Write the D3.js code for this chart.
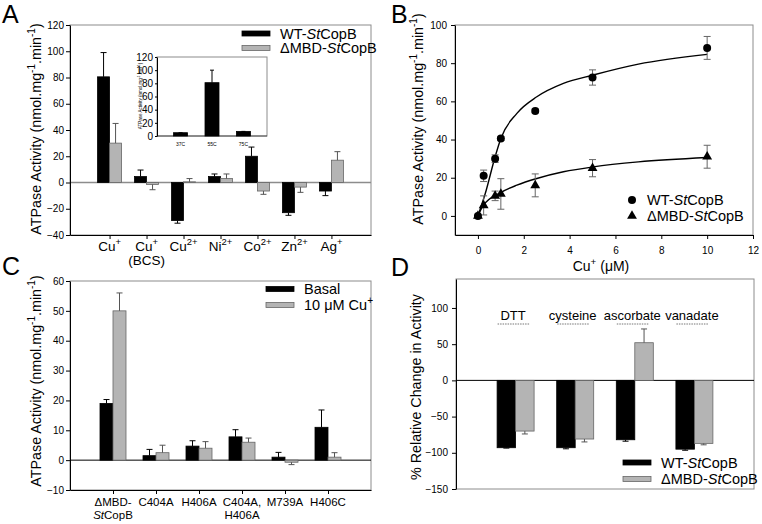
<!DOCTYPE html>
<html>
<head>
<meta charset="utf-8">
<script src="https://cdn.jsdelivr.net/npm/d3@7"></script>
<style>
body { margin: 0; background: #fff; }
text { font-family: "Liberation Sans", Arial, sans-serif; }
</style>
</head>
<body>
<svg id="fig" width="762" height="524"></svg>
<script>
// ---- panel A: activity with different metals ----
var metals = ["Cu^{+}", "Cu^{+}\n(BCS)", "Cu^{2+}", "Ni^{2+}", "Co^{2+}", "Zn^{2+}", "Ag^{+}"];
var wtMetal = [80.5, 4.5, -29, 4.5, 20, -23, -6.5];
var wtMetalErr = [18.5, 5, 2, 2, 7, 2, 3.5];
var mbdMetal = [30, -1.5, 0.5, 3, -6.5, -3.5, 17];
var mbdMetalErr = [15, 4, 2.5, 3.5, 2.5, 4, 6.5];
var yTicksA = [-40, -20, 0, 20, 40, 60, 80, 100, 120];

// inset: temperature
var temps = ["37C", "55C", "75C"];
var tempAct = [5, 81, 7];
var tempErr = [0, 19, 0];
var yTicksInset = [0, 20, 40, 60, 80, 100, 120];

// ---- panel B: Cu+ dependence ----
var cuConc = [0, 0.25, 0.75, 1, 2.5, 5, 10];
var wtCu = [0, 21, 30, 40.5, 55, 72.5, 88];
var wtCuErr = [0, 3, 2, 1, 1, 4, 6];
var mbdCu = [0, 5.5, 10.5, 11.5, 16, 25, 31];
var mbdCuErr = [0, 5, 2.5, 8, 6, 4.5, 6];
// fitted curves
var wtFitX = [0, 0.32, 0.75, 1, 1.7, 2.57, 3.73, 5.03, 7, 10];
var wtFitY = [0, 11.7, 31, 40.6, 53.7, 62.4, 69.4, 73.8, 79.5, 84.6];
var mbdFitX = [0, 0.24, 0.97, 1.7, 2.57, 3.73, 5.03, 7, 10];
var mbdFitY = [0, 5.6, 12.1, 16.1, 19.6, 23.1, 25.7, 28.3, 30.6];
var xTicksB = [0, 2, 4, 6, 8, 10, 12];
var yTicksB = [0, 20, 40, 60, 80, 100];

// ---- panel C: mutants ----
var mutants = ["ΔMBD-\n*St*CopB", "C404A", "H406A", "C404A,\nH406A", "M739A", "H406C"];
var basal = [19, 1.5, 4.7, 7.8, 1, 11];
var basalErr = [1.3, 2.1, 1.8, 2.4, 1.6, 5.8];
var cuAct = [50, 2.5, 4, 6, -0.7, 1];
var cuActErr = [6, 2.5, 2.2, 1.4, 0.8, 1.5];
var yTicksC = [-10, 0, 10, 20, 30, 40, 50, 60];

// ---- panel D: reagents ----
var reagents = ["DTT", "cysteine", "ascorbate", "vanadate"];
var wtChange = [-93, -93, -82, -95];
var wtChangeErr = [0.5, 1.5, 2, 1.5];
var mbdChange = [-70, -81, 52, -87];
var mbdChangeErr = [4, 4, 19, 2];
var yTicksD = [-150, -100, -50, 0, 50, 100];

var svg = d3.select("#fig");
var GREY = "#b4b4b4";
var FS = 14.5;   // tick and legend text

// writes a string with *italic* and ^{sup} parts into a text element
function rich(el, str, fs) {
    var parts = str.split(/(\*[^*]+\*|\^\{[^}]+\})/).filter(function(s) { return s.length; });
    var up = false;
    parts.forEach(function(p) {
        var t = el.append("tspan");
        if (p[0] == "^") {
            t.text(p.slice(2, -1)).attr("font-size", fs * 0.7).attr("dy", -fs * 0.4);
            up = true;
        } else {
            if (p[0] == "*") t.text(p.slice(1, -1)).attr("font-style", "italic");
            else t.text(p);
            if (up) t.attr("dy", fs * 0.4);
            up = false;
        }
    });
}

function frame(g, x0, x1, y0, y1) {
    g.append("rect")
     .attr("x", x0).attr("y", y0)
     .attr("width", x1 - x0).attr("height", y1 - y0)
     .attr("fill", "none")
     .attr("stroke", "#8c8c8c");
}

function leftAxis(g, y, x0, ticks, size, pad, fs) {
    g.append("g")
     .attr("transform", "translate(" + x0 + ",0)")
     .attr("font-family", "Liberation Sans, Arial, sans-serif")
     .attr("font-size", fs)
     .call(d3.axisLeft(y).tickValues(ticks).tickSize(size).tickSizeOuter(0).tickPadding(pad));
}

function yTitle(g, x, y, str, fs) {
    var t = g.append("text")
             .attr("transform", "translate(" + x + "," + y + ") rotate(-90)")
             .attr("text-anchor", "middle")
             .attr("font-size", fs);
    rich(t, str, fs);
}

function panelLetter(x, y, s) {
    svg.append("text").attr("x", x).attr("y", y)
       .attr("font-size", 25).text(s);
}

// bars for one series, with one-sided error bars
function bars(g, x, y, cats, vals, errs, off, bw, fill, errCol, cap) {
    g.selectAll(null).data(cats).enter().append("rect")
     .attr("x", function(d) { return x(d) + off; })
     .attr("width", bw)
     .attr("y", function(d, i) { return y(Math.max(0, vals[i])); })
     .attr("height", function(d, i) { return Math.abs(y(vals[i]) - y(0)); })
     .attr("fill", fill)
     .attr("stroke", fill == "#000" ? "#000" : "#666")
     .attr("stroke-width", 0.8);

    var eb = g.selectAll(null).data(cats).enter().append("g")
              .attr("stroke", errCol).attr("stroke-width", 1);
    eb.append("line")
      .attr("x1", function(d) { return x(d) + off + bw / 2; })
      .attr("x2", function(d) { return x(d) + off + bw / 2; })
      .attr("y1", function(d, i) { return y(vals[i]); })
      .attr("y2", function(d, i) { return y(vals[i] + (vals[i] < 0 ? -1 : 1) * errs[i]); });
    eb.append("line")
      .attr("x1", function(d) { return x(d) + off + bw / 2 - cap; })
      .attr("x2", function(d) { return x(d) + off + bw / 2 + cap; })
      .attr("y1", function(d, i) { return y(vals[i] + (vals[i] < 0 ? -1 : 1) * errs[i]); })
      .attr("y2", function(d, i) { return y(vals[i] + (vals[i] < 0 ? -1 : 1) * errs[i]); });
}

function legendBar(g, x, y, fill, label, fs) {
    g.append("rect").attr("x", x).attr("y", y - 2.5).attr("width", 28).attr("height", 5)
     .attr("fill", fill).attr("stroke", fill == "#000" ? "#000" : "#666").attr("stroke-width", 0.8);
    var t = g.append("text").attr("x", x + 38).attr("y", y + 5).attr("font-size", fs);
    rich(t, label, fs);
}

// ================= A =================
var gA = svg.append("g");
var xA = d3.scalePoint().domain(metals).range([70, 371]).padding(1.07);
var yA = d3.scaleLinear().domain([-40, 120]).range([235, 25]);

frame(gA, 70, 371, 25, 235);
gA.append("line").attr("x1", 70).attr("x2", 371).attr("y1", yA(0)).attr("y2", yA(0))
  .attr("stroke", "#8c8c8c").attr("stroke-width", 1.6);
bars(gA, xA, yA, metals, wtMetal, wtMetalErr, -12, 12, "#000", "#000", 3);
bars(gA, xA, yA, metals, mbdMetal, mbdMetalErr, 0, 12, GREY, "#555", 3);
leftAxis(gA, yA, 70, yTicksA, 4, 2, FS);
gA.append("g").attr("transform", "translate(0,235)")
  .call(d3.axisBottom(xA).tickSize(4).tickSizeOuter(0).tickFormat(""));
gA.selectAll(null).data(metals).enter().append("text")
  .attr("text-anchor", "middle").attr("font-size", 13.5)
  .each(function(d) {
      var lines = d.split("\n");
      var el = d3.select(this);
      lines.forEach(function(l, i) {
          var t = el.append("tspan").attr("x", xA(d)).attr("y", 250.5 + i * 14.5);
          rich(t, l, 13.5);
      });
  });
yTitle(gA, 41, 129, "ATPase Activity (nmol.mg^{-1}.min^{-1})", 14.3);
legendBar(gA, 242, 33.5, "#000", "WT-*St*CopB", FS);
legendBar(gA, 242, 48, GREY, "ΔMBD-*St*CopB", FS);

// inset
var gI = gA.append("g");
var xI = d3.scalePoint().domain(temps).range([157, 267]).padding(0.75);
var yI = d3.scaleLinear().domain([0, 120]).range([136, 57]);
frame(gI, 157, 267, 57, 136);
bars(gI, xI, yI, temps, tempAct, tempErr, -7, 14, "#000", "#000", 2);
gI.append("line").attr("x1", 157).attr("x2", 267).attr("y1", yI(0)).attr("y2", yI(0))
  .attr("stroke", "#000").attr("stroke-width", 0.6);
leftAxis(gI, yI, 157, yTicksInset, 2, 2, 4.5);
gI.selectAll(null).data(temps).enter().append("text")
  .attr("x", function(d) { return xI(d); }).attr("y", 146)
  .attr("text-anchor", "middle").attr("font-size", 5).text(function(d) { return d; });
yTitle(gI, 142, 96, "ATPase Activity (nmol.mg^{-1}.min^{-1})", 4.5);

// ================= B =================
var gB = svg.append("g");
var xB = d3.scaleLinear().domain([-1, 12]).range([455, 753]);
var yB = d3.scaleLinear().domain([-10, 100]).range([235, 25]);
frame(gB, 455, 753, 25, 235);
leftAxis(gB, yB, 455, yTicksB, 4, 4, FS);
gB.append("g").attr("transform", "translate(0,235)")
  .attr("font-family", "Liberation Sans, Arial, sans-serif").attr("font-size", FS)
  .call(d3.axisBottom(xB).tickValues(xTicksB).tickSize(4).tickSizeOuter(0).tickPadding(8));

var fit = d3.line().curve(d3.curveMonotoneX)
            .x(function(d) { return xB(d[0]); })
            .y(function(d) { return yB(d[1]); });
gB.append("path").attr("d", fit(d3.zip(wtFitX, wtFitY)))
  .attr("fill", "none").attr("stroke", "#000").attr("stroke-width", 1.4);
gB.append("path").attr("d", fit(d3.zip(mbdFitX, mbdFitY)))
  .attr("fill", "none").attr("stroke", "#000").attr("stroke-width", 1.4);

function errB(vals, errs) {
    var g = gB.append("g").attr("stroke", "#666").attr("stroke-width", 1);
    cuConc.forEach(function(c, i) {
        if (!errs[i]) return;
        var x = xB(c), lo = yB(vals[i] - errs[i]), hi = yB(vals[i] + errs[i]);
        g.append("line").attr("x1", x).attr("x2", x).attr("y1", lo).attr("y2", hi);
        g.append("line").attr("x1", x - 3.5).attr("x2", x + 3.5).attr("y1", lo).attr("y2", lo);
        g.append("line").attr("x1", x - 3.5).attr("x2", x + 3.5).attr("y1", hi).attr("y2", hi);
    });
}
errB(wtCu, wtCuErr);
errB(mbdCu, mbdCuErr);

gB.selectAll(null).data(cuConc).enter().append("circle")
  .attr("cx", function(d) { return xB(d); })
  .attr("cy", function(d, i) { return yB(wtCu[i]); })
  .attr("r", 4).attr("fill", "#000");
var tri = d3.symbol().type(d3.symbolTriangle).size(42);
gB.selectAll(null).data(cuConc).enter().append("path")
  .attr("d", tri)
  .attr("transform", function(d, i) { return "translate(" + xB(d) + "," + yB(mbdCu[i]) + ")"; })
  .attr("fill", "#000");

yTitle(gB, 423, 119, "ATPase Activity (nmol.mg^{-1}.min^{-1})", 14.3);
var tB = gB.append("text").attr("x", 601).attr("y", 271).attr("text-anchor", "middle").attr("font-size", 14);
rich(tB, "Cu^{+} (μM)", 14);
gB.append("circle").attr("cx", 632).attr("cy", 200).attr("r", 4).attr("fill", "#000");
gB.append("path").attr("d", tri).attr("transform", "translate(632,216)").attr("fill", "#000");
var lb1 = gB.append("text").attr("x", 647).attr("y", 205).attr("font-size", FS);
rich(lb1, "WT-*St*CopB", FS);
var lb2 = gB.append("text").attr("x", 647).attr("y", 221).attr("font-size", FS);
rich(lb2, "ΔMBD-*St*CopB", FS);

// ================= C =================
var gC = svg.append("g");
var xC = d3.scalePoint().domain(mutants).range([70, 371]).padding(1);
var yC = d3.scaleLinear().domain([-10, 60]).range([490, 281]);
frame(gC, 70, 371, 281, 490);
gC.append("line").attr("x1", 70).attr("x2", 371).attr("y1", yC(0)).attr("y2", yC(0))
  .attr("stroke", "#000").attr("stroke-width", 1);
bars(gC, xC, yC, mutants, basal, basalErr, -13, 13, "#000", "#000", 3);
bars(gC, xC, yC, mutants, cuAct, cuActErr, 0, 13, GREY, "#555", 3);
leftAxis(gC, yC, 70, yTicksC, 4, 2, FS);
gC.append("g").attr("transform", "translate(0,490)")
  .call(d3.axisBottom(xC).tickSize(4).tickSizeOuter(0).tickFormat(""));
gC.selectAll(null).data(mutants).enter().append("text")
  .attr("text-anchor", "middle").attr("font-size", 11.5)
  .each(function(d) {
      var el = d3.select(this);
      d.split("\n").forEach(function(l, i) {
          var t = el.append("tspan").attr("x", xC(d)).attr("y", 506 + i * 13);
          rich(t, l, 11.5);
      });
  });
yTitle(gC, 41, 381, "ATPase Activity (nmol.mg^{-1}.min^{-1})", 14.3);
legendBar(gC, 266, 289, "#000", "Basal", FS);
legendBar(gC, 266, 305, GREY, "10 μM Cu^{+}", FS);

// ================= D =================
var gD = svg.append("g");
var xD = d3.scalePoint().domain(reagents).range([456, 754]).padding(1);
var yD = d3.scaleLinear().domain([-150, 140]).range([489, 279]);
frame(gD, 456, 754, 279, 489);
gD.append("line").attr("x1", 456).attr("x2", 754).attr("y1", yD(0)).attr("y2", yD(0))
  .attr("stroke", "#000").attr("stroke-width", 1);
bars(gD, xD, yD, reagents, wtChange, wtChangeErr, -18.5, 18.5, "#000", "#000", 3);
bars(gD, xD, yD, reagents, mbdChange, mbdChangeErr, 0, 18.5, GREY, "#555", 3);
leftAxis(gD, yD, 456, yTicksD, 4, 4, FS);
gD.selectAll(null).data(reagents).enter().append("text")
  .attr("x", function(d) { return xD(d) - 2.5; }).attr("y", 320)
  .attr("text-anchor", "middle").attr("font-size", 13)
  .text(function(d) { return d; });
gD.selectAll(null).data(reagents).enter().append("line")
  .attr("x1", function(d) { return xD(d) - 18; })
  .attr("x2", function(d) { return xD(d) + 14; })
  .attr("y1", 324).attr("y2", 324)
  .attr("stroke", "#666").attr("stroke-width", 0.9).attr("stroke-dasharray", "1.5,1");
yTitle(gD, 421, 387, "% Relative Change in Activity", 14.3);
legendBar(gD, 623, 462.5, "#000", "WT-*St*CopB", FS);
legendBar(gD, 623, 479, GREY, "ΔMBD-*St*CopB", FS);

panelLetter(2, 23, "A");
panelLetter(391, 23, "B");
panelLetter(2, 275, "C");
panelLetter(391, 276, "D");
</script>
</body>
</html>
